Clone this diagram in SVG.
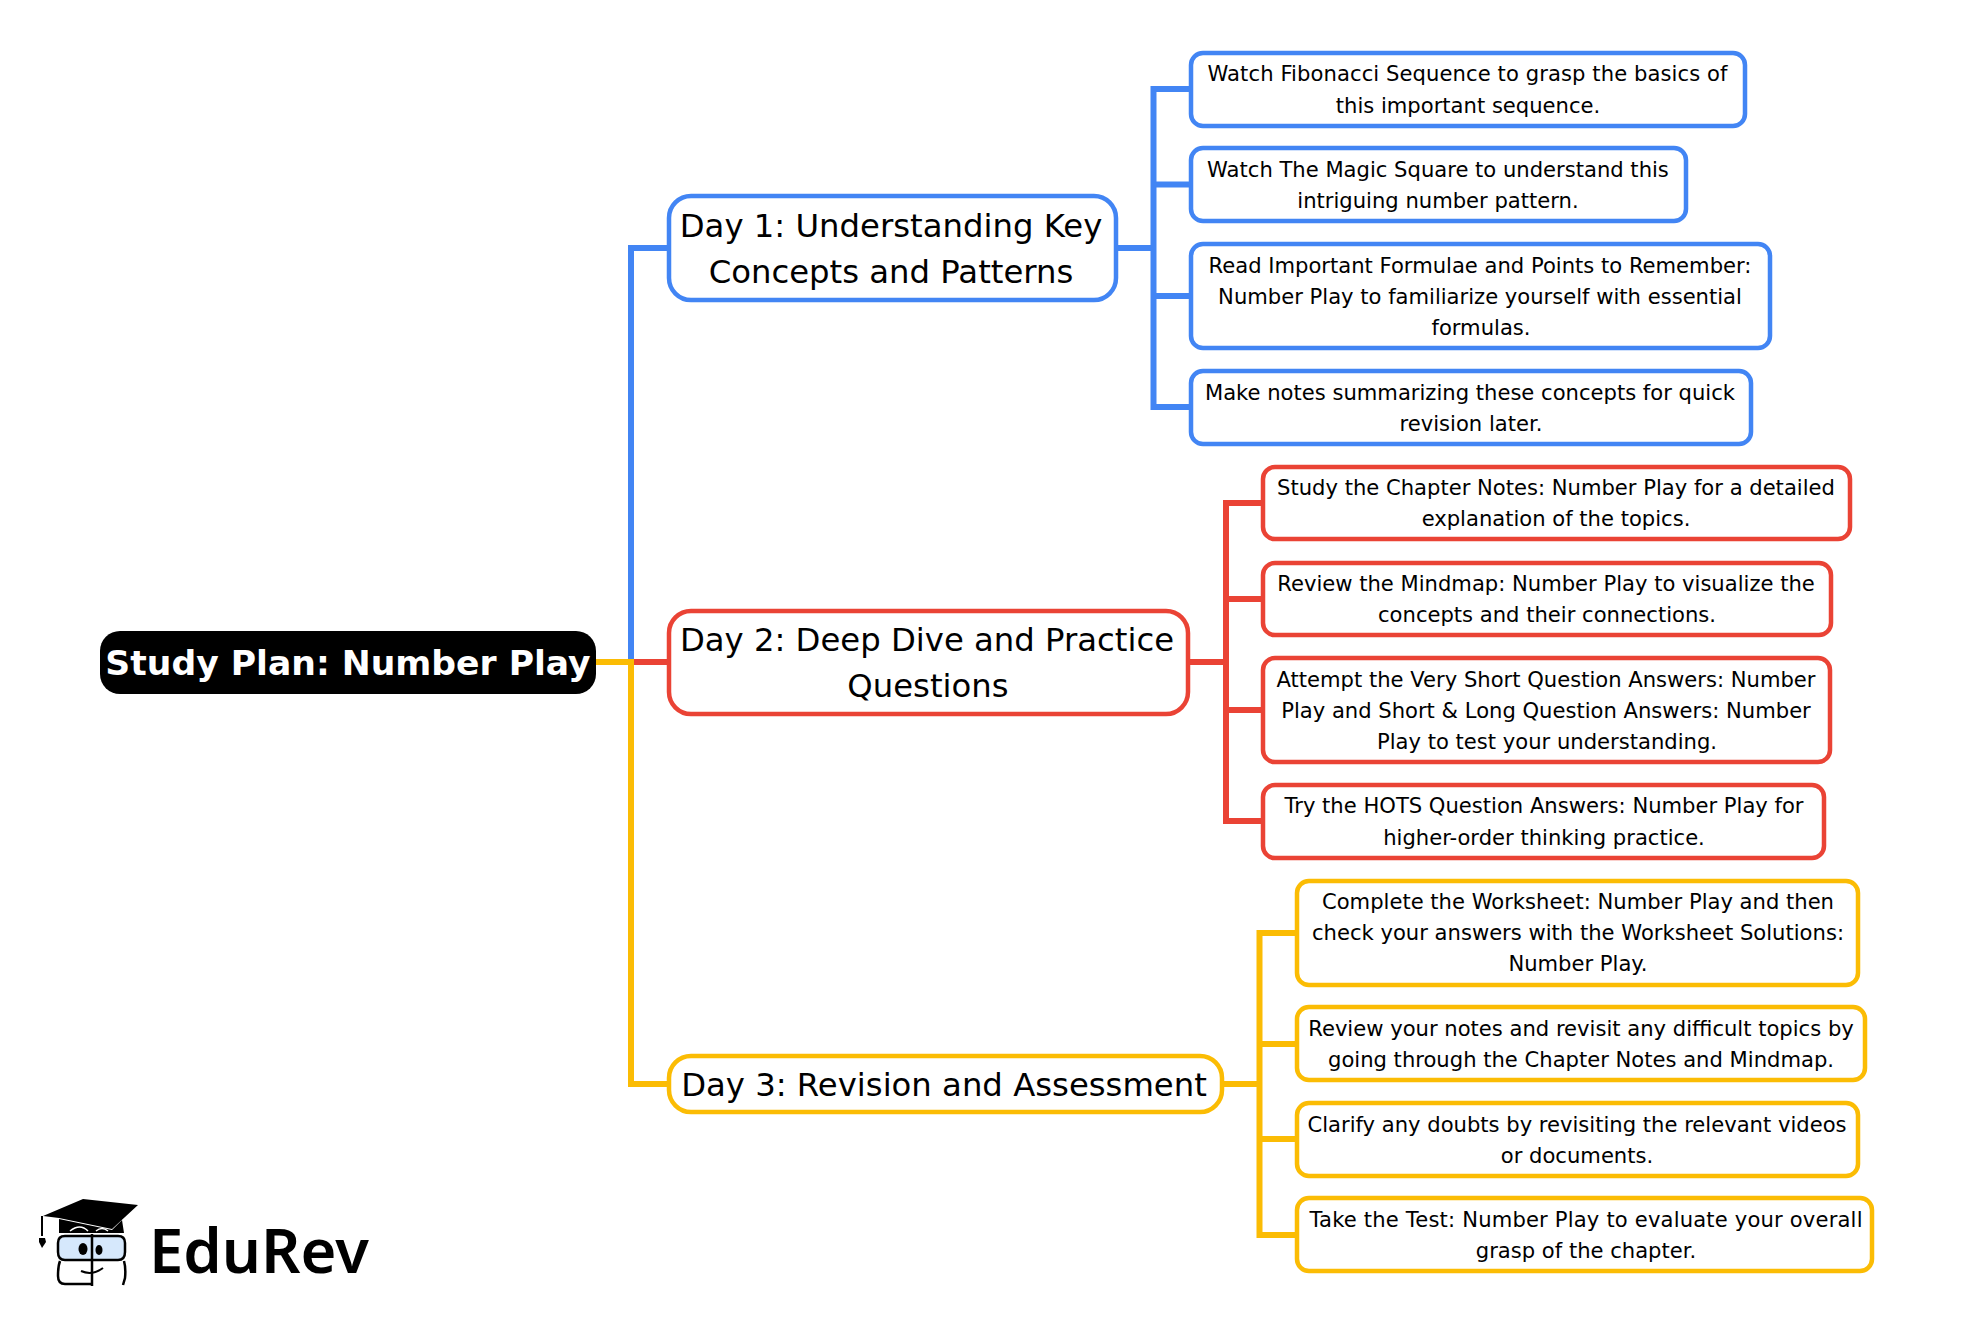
<svg xmlns="http://www.w3.org/2000/svg" width="1974" height="1324" viewBox="0 0 1974 1324">
<style>
text{font-family:"DejaVu Sans",sans-serif;text-anchor:middle;fill:#000}
.leaf{font-size:21.1px}
.day{font-size:32.3px}
.root{font-size:34.6px;font-weight:700;fill:#fff}
.box{fill:#fff;stroke-width:4.5}
.b{stroke:#4285f4}.r{stroke:#ea4335}.y{stroke:#fbbc04}
.c{fill:none;stroke-width:6}
</style>
<rect width="1974" height="1324" fill="#fff"/>
<g id="root"><rect x="100" y="631" width="496" height="63" rx="20" fill="#000"/><text class="root" x="348" y="675">Study Plan: Number Play</text></g>
<g id="day1"><rect class="box b" x="669" y="196" width="447" height="104" rx="22"/><text class="day" x="891" y="237">Day 1: Understanding Key</text><text class="day" x="891" y="283">Concepts and Patterns</text></g>
<g id="day2"><rect class="box r" x="669" y="611" width="519" height="103" rx="22"/><text class="day" x="927" y="651">Day 2: Deep Dive and Practice</text><text class="day" x="928" y="697">Questions</text></g>
<g id="day3"><rect class="box y" x="669" y="1056" width="553" height="56" rx="22"/><text class="day" x="944" y="1096">Day 3: Revision and Assessment</text></g>
<g id="b1"><rect class="box b" x="1191" y="53" width="554" height="73" rx="12"/><text class="leaf" x="1467.5" y="81" textLength="520">Watch Fibonacci Sequence to grasp the basics of</text><text class="leaf" x="1468" y="113">this important sequence.</text></g>
<g id="b2"><rect class="box b" x="1191" y="148" width="495" height="73" rx="12"/><text class="leaf" x="1438" y="177">Watch The Magic Square to understand this</text><text class="leaf" x="1438" y="208">intriguing number pattern.</text></g>
<g id="b3"><rect class="box b" x="1191" y="244" width="579" height="104" rx="12"/><text class="leaf" x="1480" y="273">Read Important Formulae and Points to Remember:</text><text class="leaf" x="1480" y="304">Number Play to familiarize yourself with essential</text><text class="leaf" x="1481" y="335">formulas.</text></g>
<g id="b4"><rect class="box b" x="1191" y="371" width="560" height="73" rx="12"/><text class="leaf" x="1470" y="400">Make notes summarizing these concepts for quick</text><text class="leaf" x="1471" y="431">revision later.</text></g>
<g id="r1"><rect class="box r" x="1263" y="467" width="587" height="72" rx="12"/><text class="leaf" x="1556" y="495">Study the Chapter Notes: Number Play for a detailed</text><text class="leaf" x="1556" y="526">explanation of the topics.</text></g>
<g id="r2"><rect class="box r" x="1263" y="563" width="568" height="72" rx="12"/><text class="leaf" x="1546" y="591">Review the Mindmap: Number Play to visualize the</text><text class="leaf" x="1547" y="622">concepts and their connections.</text></g>
<g id="r3"><rect class="box r" x="1263" y="658" width="567" height="104" rx="12"/><text class="leaf" x="1546" y="687">Attempt the Very Short Question Answers: Number</text><text class="leaf" x="1546" y="718">Play and Short &amp; Long Question Answers: Number</text><text class="leaf" x="1547" y="749">Play to test your understanding.</text></g>
<g id="r4"><rect class="box r" x="1263" y="785" width="561" height="73" rx="12"/><text class="leaf" x="1544" y="813">Try the HOTS Question Answers: Number Play for</text><text class="leaf" x="1544" y="845">higher-order thinking practice.</text></g>
<g id="y1"><rect class="box y" x="1297" y="881" width="561" height="104" rx="12"/><text class="leaf" x="1578" y="909">Complete the Worksheet: Number Play and then</text><text class="leaf" x="1578" y="940">check your answers with the Worksheet Solutions:</text><text class="leaf" x="1578" y="971">Number Play.</text></g>
<g id="y2"><rect class="box y" x="1297" y="1007" width="568" height="73" rx="12"/><text class="leaf" x="1581" y="1036">Review your notes and revisit any difficult topics by</text><text class="leaf" x="1581" y="1067">going through the Chapter Notes and Mindmap.</text></g>
<g id="y3"><rect class="box y" x="1297" y="1103" width="561" height="73" rx="12"/><text class="leaf" x="1577" y="1132">Clarify any doubts by revisiting the relevant videos</text><text class="leaf" x="1577" y="1163">or documents.</text></g>
<g id="y4"><rect class="box y" x="1297" y="1198" width="575" height="73" rx="12"/><text class="leaf" x="1586" y="1227" textLength="553">Take the Test: Number Play to evaluate your overall</text><text class="leaf" x="1586" y="1258">grasp of the chapter.</text></g>
<g id="connectors">
<path class="c b" d="M596 662H631V248H671"/>
<path class="c b" d="M1115 248H1153.5M1193 89H1153.5V407H1193M1153.5 184.500H1193M1153.5 296H1193"/>
<path class="c r" d="M596 662H671"/>
<path class="c r" d="M1186 662H1226M1265 503H1226V821H1265M1226 599H1265M1226 710H1265"/>
<path class="c y" d="M596 662H631V1084H671"/>
<path class="c y" d="M1220 1084H1259.500M1299 933H1259.500V1235H1299M1259.500 1044H1299M1259.500 1139H1299"/>
</g>
<g id="logo">
<path d="M59 1219L59 1233H124L122 1220L112 1230Z" fill="#000"/>
<path d="M43 1216L83 1199L138 1205L112 1229L59 1218Z" fill="#000"/>
<path d="M42 1216V1236" stroke="#000" stroke-width="2" fill="none"/>
<path d="M39 1238H45L46 1242L42 1248L39 1242Z" fill="#000"/>
<path d="M70 1231Q80 1223 88 1231M96 1231Q102 1226 108 1231" stroke="#fff" stroke-width="1.6" fill="none"/>
<path d="M65 1236H118Q125 1236 125 1243V1252Q125 1260 118 1260H65Q58 1260 58 1252V1243Q58 1236 65 1236Z" fill="#d6e8fc" stroke="#000" stroke-width="2.5"/>
<path d="M60 1261Q58 1266 58 1276Q58 1284 65 1284H92M92 1234V1286M124 1261Q126 1268 125 1278L123 1285" stroke="#000" stroke-width="2.500" fill="none"/>
<ellipse cx="83" cy="1249" rx="4.5" ry="6" fill="#000"/><ellipse cx="99" cy="1250" rx="3.5" ry="5" fill="#000"/>
<path d="M81 1271Q92 1276 103 1268" stroke="#000" stroke-width="2" fill="none"/>
<text x="259" y="1273" style="font-family:'Noto Sans',sans-serif;font-weight:600;font-size:61.500px">EduRev</text>
</g>
</svg>
